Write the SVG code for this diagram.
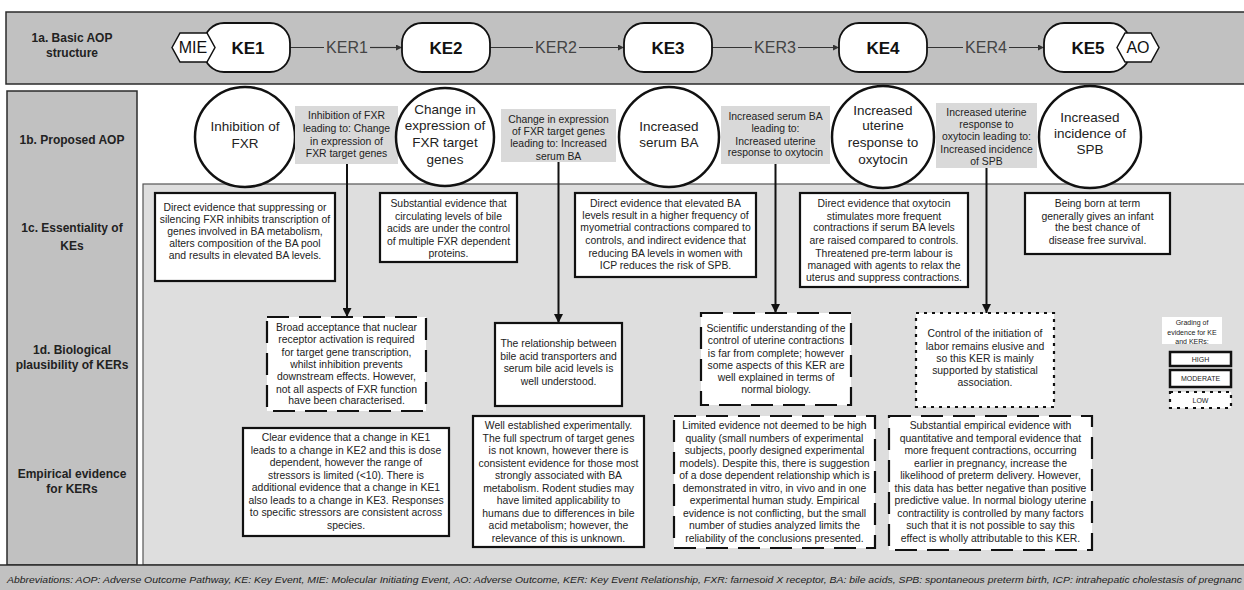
<svg xmlns="http://www.w3.org/2000/svg" width="1244" height="590" viewBox="0 0 1244 590">
<defs>
<marker id="ah" viewBox="0 0 10 10" refX="10" refY="5" markerWidth="9" markerHeight="9" markerUnits="userSpaceOnUse" orient="auto"><path d="M0,0 L10,5 L0,10 z" fill="#111"/></marker>
<marker id="ahs" viewBox="0 0 10 10" refX="10" refY="5" markerWidth="6" markerHeight="6" markerUnits="userSpaceOnUse" orient="auto"><path d="M0,0 L10,5 L0,10 z" fill="#333"/></marker>
<style>
text{font-family:"Liberation Sans",Arial,sans-serif;fill:#222}
.band{fill:#c1c1c1;stroke:#2b2b2b;stroke-width:1.5}
.panel{fill:#dedede;stroke:#555;stroke-width:1.2}
.ke{fill:#fff;stroke:#111;stroke-width:1.8}
.hex{fill:#fff;stroke:#111;stroke-width:1.5}
.circ{fill:#fff;stroke:#111;stroke-width:2.5}
.gl{fill:#d9d9d9}
.box{fill:#fff;stroke:#111;stroke-width:2.2}
.dash{stroke-dasharray:22 10}
.dot{stroke-dasharray:3 5}
.sec{font-size:12px;font-weight:bold;text-anchor:middle}
.ket{font-size:17px;font-weight:bold;text-anchor:middle;fill:#111}
.ker{font-size:16px;text-anchor:middle;fill:#444}
.hx{font-size:16px;text-anchor:middle;fill:#111}
.ct{font-size:13.5px;text-anchor:middle}
.gt{font-size:10.4px;text-anchor:middle}
.t{font-size:10.4px;text-anchor:middle}
.lg{font-size:7px;text-anchor:middle}
.conn{stroke:#111;stroke-width:2;fill:none}
.hconn{stroke:#333;stroke-width:1.2;fill:none}
</style>
</defs>
<rect x="0" y="0" width="1244" height="590" fill="#fff"/>

<g id="background">
<rect class="band" x="6" y="12" width="1250" height="72"/>
<rect class="band" x="7" y="91" width="130" height="474"/>
<rect class="panel" x="143" y="184" width="1110" height="381"/>
<rect class="band" x="-2" y="565" width="1250" height="30"/>
</g>

<g id="section-labels">
<text class="sec" x="72"><tspan x="72" y="42">1a. Basic AOP</tspan><tspan x="72" y="57">structure</tspan></text>
<text class="sec" x="72" y="144">1b. Proposed AOP</text>
<text class="sec" x="72"><tspan x="72" y="232">1c. Essentiality of</tspan><tspan x="72" y="250">KEs</tspan></text>
<text class="sec" x="72"><tspan x="72" y="354">1d. Biological</tspan><tspan x="72" y="369">plausibility of KERs</tspan></text>
<text class="sec" x="72"><tspan x="72" y="478">Empirical evidence</tspan><tspan x="72" y="493">for KERs</tspan></text>
</g>

<g id="connectors">
<line class="hconn" x1="290" y1="47.5" x2="324" y2="47.5"/>
<line class="hconn" x1="370" y1="47.5" x2="402" y2="47.5" marker-end="url(#ahs)"/>
<text class="ker" x="347" y="53">KER1</text>
<line class="hconn" x1="490" y1="47.5" x2="533" y2="47.5"/>
<line class="hconn" x1="579" y1="47.5" x2="624" y2="47.5" marker-end="url(#ahs)"/>
<text class="ker" x="556" y="53">KER2</text>
<line class="hconn" x1="712" y1="47.5" x2="752" y2="47.5"/>
<line class="hconn" x1="798" y1="47.5" x2="839" y2="47.5" marker-end="url(#ahs)"/>
<text class="ker" x="775" y="53">KER3</text>
<line class="hconn" x1="927" y1="47.5" x2="963" y2="47.5"/>
<line class="hconn" x1="1009" y1="47.5" x2="1044" y2="47.5" marker-end="url(#ahs)"/>
<text class="ker" x="986" y="53">KER4</text>
<line class="conn" x1="347" y1="164" x2="347" y2="317" marker-end="url(#ah)"/>
<line class="conn" x1="558.5" y1="162" x2="558.5" y2="323" marker-end="url(#ah)"/>
<line class="conn" x1="775.5" y1="164" x2="775.5" y2="313" marker-end="url(#ah)"/>
<line class="conn" x1="986.5" y1="168" x2="986.5" y2="313" marker-end="url(#ah)"/>
</g>

<g id="KE1">
<rect class="ke" x="204" y="23" width="86" height="49" rx="20" ry="20"/>
<text class="ket" x="248" y="53.6">KE1</text>
</g>
<g id="MIE">
<polygon class="hex" points="172,47.5 180,33 207,33 215,47.5 207,62 180,62"/>
<text class="hx" x="193" y="53.3">MIE</text>
</g>
<g id="KE2">
<rect class="ke" x="402" y="23" width="88" height="49" rx="20" ry="20"/>
<text class="ket" x="446" y="53.6">KE2</text>
</g>
<g id="KE3">
<rect class="ke" x="624" y="23" width="88" height="49" rx="20" ry="20"/>
<text class="ket" x="668" y="53.6">KE3</text>
</g>
<g id="KE4">
<rect class="ke" x="839" y="23" width="88" height="49" rx="20" ry="20"/>
<text class="ket" x="883" y="53.6">KE4</text>
</g>
<g id="KE5">
<rect class="ke" x="1044" y="23" width="86" height="49" rx="20" ry="20"/>
<text class="ket" x="1088" y="53.6">KE5</text>
</g>
<g id="AO">
<polygon class="hex" points="1117,47.5 1125,33 1151,33 1159,47.5 1151,62 1125,62"/>
<text class="hx" x="1138" y="53.3">AO</text>
</g>

<g id="circle-KE1">
<circle class="circ" cx="245" cy="137" r="50"/>
<text class="ct"><tspan x="245" y="131">Inhibition of</tspan><tspan x="245" y="147.5">FXR</tspan></text>
</g>
<g id="label-KER1">
<rect class="gl" x="295" y="106" width="103" height="58"/>
<text class="gt"><tspan x="346.5" y="119">Inhibition of FXR</tspan><tspan x="346.5" y="132">leading to: Change</tspan><tspan x="346.5" y="145">in expression of</tspan><tspan x="346.5" y="157">FXR target genes</tspan></text>
</g>
<g id="circle-KE2">
<circle class="circ" cx="445" cy="137" r="49"/>
<text class="ct"><tspan x="445" y="113.5">Change in</tspan><tspan x="445" y="130">expression of</tspan><tspan x="445" y="147">FXR target</tspan><tspan x="445" y="164">genes</tspan></text>
</g>
<g id="label-KER2">
<rect class="gl" x="501" y="109" width="115" height="53"/>
<text class="gt"><tspan x="558.5" y="123">Change in expression</tspan><tspan x="558.5" y="135">of FXR target genes</tspan><tspan x="558.5" y="147">leading to: Increased</tspan><tspan x="558.5" y="160">serum BA</tspan></text>
</g>
<g id="circle-KE3">
<circle class="circ" cx="669" cy="137" r="50"/>
<text class="ct"><tspan x="669" y="131">Increased</tspan><tspan x="669" y="147">serum BA</tspan></text>
</g>
<g id="label-KER3">
<rect class="gl" x="721" y="106" width="109" height="58"/>
<text class="gt"><tspan x="775.5" y="120">Increased serum BA</tspan><tspan x="775.5" y="132">leading to:</tspan><tspan x="775.5" y="145">Increased uterine</tspan><tspan x="775.5" y="156">response to oxytocin</tspan></text>
</g>
<g id="circle-KE4">
<circle class="circ" cx="883" cy="137" r="51"/>
<text class="ct"><tspan x="883" y="114.5">Increased</tspan><tspan x="883" y="130">uterine</tspan><tspan x="883" y="147">response to</tspan><tspan x="883" y="163.5">oxytocin</tspan></text>
</g>
<g id="label-KER4">
<rect class="gl" x="936" y="103" width="101" height="65"/>
<text class="gt"><tspan x="986.5" y="116">Increased uterine</tspan><tspan x="986.5" y="128">response to</tspan><tspan x="986.5" y="140">oxytocin leading to:</tspan><tspan x="986.5" y="153">Increased incidence</tspan><tspan x="986.5" y="165">of SPB</tspan></text>
</g>
<g id="circle-KE5">
<circle class="circ" cx="1090" cy="137" r="51"/>
<text class="ct"><tspan x="1090" y="122">Increased</tspan><tspan x="1090" y="138">incidence of</tspan><tspan x="1090" y="154">SPB</tspan></text>
</g>

<g id="ess-KE1">
<rect class="box" x="155" y="193" width="180" height="88"/>
<text class="t"><tspan x="245" y="211">Direct evidence that suppressing or</tspan><tspan x="245" y="223">silencing FXR inhibits transcription of</tspan><tspan x="245" y="235">genes involved in BA metabolism,</tspan><tspan x="245" y="247">alters composition of the BA pool</tspan><tspan x="245" y="258.5">and results in elevated BA levels.</tspan></text>
</g>
<g id="ess-KE2">
<rect class="box" x="380" y="193" width="137" height="69"/>
<text class="t"><tspan x="448.5" y="207">Substantial evidence that</tspan><tspan x="448.5" y="220">circulating levels of bile</tspan><tspan x="448.5" y="232">acids are under the control</tspan><tspan x="448.5" y="245">of multiple FXR dependent</tspan><tspan x="448.5" y="257">proteins.</tspan></text>
</g>
<g id="ess-KE3">
<rect class="box" x="575" y="193" width="181" height="84"/>
<text class="t"><tspan x="665.5" y="207">Direct evidence that elevated BA</tspan><tspan x="665.5" y="219">levels result in a higher frequency of</tspan><tspan x="665.5" y="231">myometrial contractions compared to</tspan><tspan x="665.5" y="244">controls, and indirect evidence that</tspan><tspan x="665.5" y="257">reducing BA levels in women with</tspan><tspan x="665.5" y="269">ICP reduces the risk of SPB.</tspan></text>
</g>
<g id="ess-KE4">
<rect class="box" x="800" y="193" width="168" height="94"/>
<text class="t"><tspan x="884" y="207">Direct evidence that oxytocin</tspan><tspan x="884" y="220">stimulates more frequent</tspan><tspan x="884" y="231">contractions if serum BA levels</tspan><tspan x="884" y="244">are raised compared to controls.</tspan><tspan x="884" y="257">Threatened pre-term labour is</tspan><tspan x="884" y="269">managed with agents to relax the</tspan><tspan x="884" y="281">uterus and suppress contractions.</tspan></text>
</g>
<g id="ess-KE5">
<rect class="box" x="1025" y="193" width="145" height="61"/>
<text class="t"><tspan x="1097.5" y="207">Being born at term</tspan><tspan x="1097.5" y="220">generally gives an infant</tspan><tspan x="1097.5" y="231">the best chance of</tspan><tspan x="1097.5" y="244">disease free survival.</tspan></text>
</g>

<g id="bio-KER1">
<rect class="box dash" x="267" y="317" width="159" height="94"/>
<text class="t"><tspan x="346.5" y="331">Broad acceptance that nuclear</tspan><tspan x="346.5" y="343">receptor activation is required</tspan><tspan x="346.5" y="355.5">for target gene transcription,</tspan><tspan x="346.5" y="367.5">whilst inhibition prevents</tspan><tspan x="346.5" y="380">downstream effects. However,</tspan><tspan x="346.5" y="392.5">not all aspects of FXR function</tspan><tspan x="346.5" y="404">have been characterised.</tspan></text>
</g>
<g id="bio-KER2">
<rect class="box" x="495" y="323" width="127" height="83"/>
<text class="t"><tspan x="558.5" y="347">The relationship between</tspan><tspan x="558.5" y="360">bile acid transporters and</tspan><tspan x="558.5" y="372">serum bile acid levels is</tspan><tspan x="558.5" y="385">well understood.</tspan></text>
</g>
<g id="bio-KER3">
<rect class="box dash" x="701" y="313" width="150" height="92"/>
<text class="t"><tspan x="776" y="332">Scientific understanding of the</tspan><tspan x="776" y="344">control of uterine contractions</tspan><tspan x="776" y="357">is far from complete; however</tspan><tspan x="776" y="368.5">some aspects of this KER are</tspan><tspan x="776" y="381">well explained in terms of</tspan><tspan x="776" y="392.5">normal biology.</tspan></text>
</g>
<g id="bio-KER4">
<rect class="box dot" x="916" y="313" width="138" height="94"/>
<text class="t"><tspan x="985" y="337">Control of the initiation of</tspan><tspan x="985" y="350">labor remains elusive and</tspan><tspan x="985" y="362">so this KER is mainly</tspan><tspan x="985" y="374">supported by statistical</tspan><tspan x="985" y="386">association.</tspan></text>
</g>

<g id="legend">
<rect x="1162" y="317" width="60" height="27" fill="#fff"/>
<text class="lg"><tspan x="1192" y="324.5">Grading of</tspan><tspan x="1192" y="335">evidence for KE</tspan><tspan x="1192" y="344">and KERs:</tspan></text>
<rect class="box" x="1170" y="352" width="61" height="14" style="stroke-width:2.5"/>
<text class="lg" x="1200.5" y="361.5">HIGH</text>
<rect class="box" x="1170" y="370" width="61" height="17" style="stroke-width:2.5"/>
<text class="lg" x="1200.5" y="381">MODERATE</text>
<rect class="box dot" x="1170" y="392" width="61" height="16"/>
<text class="lg" x="1200.5" y="402.5">LOW</text>
</g>

<g id="emp-KER1">
<rect class="box" x="243" y="428" width="206" height="108"/>
<text class="t"><tspan x="346" y="441">Clear evidence that a change in KE1</tspan><tspan x="346" y="453.5">leads to a change in KE2 and this is dose</tspan><tspan x="346" y="466">dependent, however the range of</tspan><tspan x="346" y="478.5">stressors is limited (&lt;10). There is</tspan><tspan x="346" y="491">additional evidence that a change in KE1</tspan><tspan x="346" y="503.5">also leads to a change in KE3. Responses</tspan><tspan x="346" y="516">to specific stressors are consistent across</tspan><tspan x="346" y="528.5">species.</tspan></text>
</g>
<g id="emp-KER2">
<rect class="box" x="473" y="416" width="171" height="131"/>
<text class="t"><tspan x="558.5" y="429">Well established experimentally.</tspan><tspan x="558.5" y="441.5">The full spectrum of target genes</tspan><tspan x="558.5" y="454">is not known, however there is</tspan><tspan x="558.5" y="466.5">consistent evidence for those most</tspan><tspan x="558.5" y="479">strongly associated with BA</tspan><tspan x="558.5" y="491.5">metabolism. Rodent studies may</tspan><tspan x="558.5" y="504">have limited applicability to</tspan><tspan x="558.5" y="516.5">humans due to differences in bile</tspan><tspan x="558.5" y="529">acid metabolism; however, the</tspan><tspan x="558.5" y="541.5">relevance of this is unknown.</tspan></text>
</g>
<g id="emp-KER3">
<rect class="box dash" x="674" y="416" width="201" height="132"/>
<text class="t"><tspan x="774.5" y="429">Limited evidence not deemed to be high</tspan><tspan x="774.5" y="441.5">quality (small numbers of experimental</tspan><tspan x="774.5" y="454">subjects, poorly designed experimental</tspan><tspan x="774.5" y="466.5">models). Despite this, there is suggestion</tspan><tspan x="774.5" y="479">of a dose dependent relationship which is</tspan><tspan x="774.5" y="491.5">demonstrated in vitro, in vivo and in one</tspan><tspan x="774.5" y="504">experimental human study. Empirical</tspan><tspan x="774.5" y="516.5">evidence is not conflicting, but the small</tspan><tspan x="774.5" y="529">number of studies analyzed limits the</tspan><tspan x="774.5" y="541.5">reliability of the conclusions presented.</tspan></text>
</g>
<g id="emp-KER4">
<rect class="box dash" x="889" y="416" width="203" height="134"/>
<text class="t"><tspan x="990.5" y="429">Substantial empirical evidence with</tspan><tspan x="990.5" y="441.5">quantitative and temporal evidence that</tspan><tspan x="990.5" y="454">more frequent contractions, occurring</tspan><tspan x="990.5" y="466.5">earlier in pregnancy, increase the</tspan><tspan x="990.5" y="479">likelihood of preterm delivery. However,</tspan><tspan x="990.5" y="491.5">this data has better negative than positive</tspan><tspan x="990.5" y="504">predictive value. In normal biology uterine</tspan><tspan x="990.5" y="516.5">contractility is controlled by many factors</tspan><tspan x="990.5" y="529">such that it is not possible to say this</tspan><tspan x="990.5" y="541.5">effect is wholly attributable to this KER.</tspan></text>
</g>

<g id="abbreviations">
<text x="7" y="583" font-size="9.5" font-style="italic" textLength="1235" lengthAdjust="spacingAndGlyphs">Abbreviations: AOP: Adverse Outcome Pathway, KE: Key Event, MIE: Molecular Initiating Event, AO: Adverse Outcome, KER: Key Event Relationship, FXR: farnesoid X receptor, BA: bile acids, SPB: spontaneous preterm birth, ICP: intrahepatic cholestasis of pregnanc</text>
</g>
</svg>
